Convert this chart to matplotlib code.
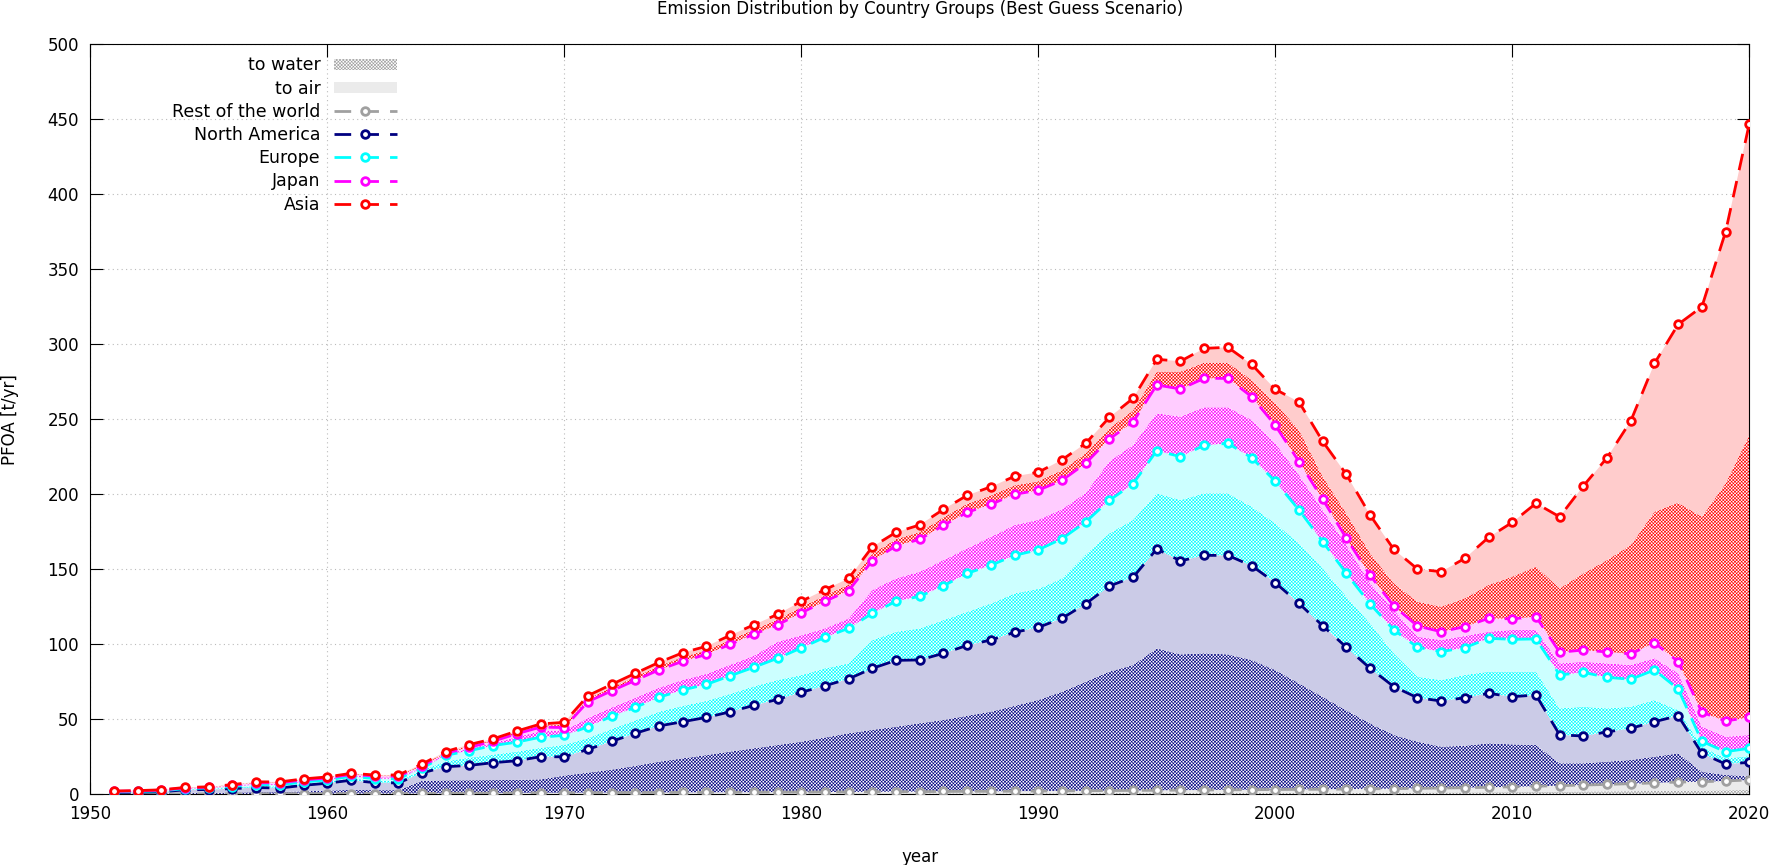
import numpy as np
import matplotlib.pyplot as plt
from matplotlib.lines import Line2D
from matplotlib.patches import Patch

plt.rcParams['font.family'] = ['DejaVu Sans']
plt.rcParams['hatch.linewidth'] = 0.45

years = np.arange(1951, 2021)

# stacked levels (t/yr), one row per decade
row_top = [0.2, 0.2, 0.2, 0.3, 0.3, 0.3, 0.3, 0.4, 0.4, 0.4,
           0.5, 0.5, 0.5, 0.6, 0.7, 0.8, 0.8, 0.9, 1.0, 1.0,
           1.1, 1.1, 1.2, 1.2, 1.3, 1.3, 1.4, 1.4, 1.5, 1.5,
           1.6, 1.6, 1.7, 1.8, 1.8, 1.9, 2.0, 2.0, 2.1, 2.2,
           2.3, 2.4, 2.5, 2.6, 2.7, 2.8, 2.9, 3.0, 3.1, 3.2,
           3.3, 3.4, 3.5, 3.7, 3.8, 4.0, 4.2, 4.4, 4.7, 5.0,
           5.4, 5.8, 6.2, 6.6, 7.1, 7.6, 8.2, 8.4, 8.9, 9.6]
row_water = [0.1, 0.1, 0.1, 0.1, 0.1, 0.1, 0.1, 0.1, 0.1, 0.1,
             0.1, 0.1, 0.1, 0.2, 0.2, 0.2, 0.2, 0.3, 0.3, 0.3,
             0.3, 0.3, 0.4, 0.4, 0.4, 0.4, 0.4, 0.4, 0.5, 0.5,
             0.5, 0.5, 0.5, 0.5, 0.5, 0.6, 0.6, 0.6, 0.6, 0.7,
             0.7, 0.7, 0.8, 0.8, 0.8, 0.8, 0.9, 0.9, 0.9, 1.0,
             1.0, 1.0, 1.1, 1.1, 1.1, 1.2, 1.3, 1.3, 1.4, 1.5,
             1.6, 1.7, 1.9, 2.0, 2.1, 2.3, 2.5, 2.5, 2.7, 2.9]

na_top = [1.2, 1.4, 1.7, 3.0, 3.2, 3.8, 4.5, 4.2, 6.0, 7.4,
          9.4, 7.8, 7.6, 14.3, 18.4, 19.3, 21.1, 22.4, 25.1, 25.0,
          30.0, 35.3, 40.7, 45.6, 48.4, 51.3, 55.0, 59.3, 63.3, 68.0,
          72.4, 77.0, 84.0, 89.3, 89.6, 94.0, 99.3, 102.9, 108.0, 111.3,
          117.3, 127.0, 138.9, 144.7, 163.6, 155.6, 159.3, 159.3, 152.4, 141.1,
          127.3, 112.4, 98.0, 84.0, 71.8, 64.4, 62.2, 64.4, 67.3, 65.1,
          66.2, 39.6, 38.9, 41.6, 44.0, 48.4, 52.4, 27.3, 20.2, 21.3]
na_water = [0.5, 0.6, 0.7, 1.0, 1.0, 1.2, 1.5, 1.5, 2.0, 2.5,
            3.0, 2.8, 2.8, 9.0, 9.3, 9.4, 9.5, 9.6, 10.0, 12.5,
            14.5, 16.5, 19.0, 21.8, 24.0, 26.2, 28.5, 30.7, 32.9, 35.1,
            37.9, 40.7, 43.0, 45.1, 47.4, 49.6, 52.4, 55.1, 59.0, 62.9,
            68.4, 75.1, 81.8, 86.2, 97.3, 93.3, 94.0, 93.3, 89.6, 82.9,
            74.0, 65.0, 56.0, 47.3, 39.6, 35.1, 31.8, 32.4, 34.0, 33.3,
            32.9, 20.7, 20.7, 21.8, 22.9, 25.1, 27.3, 15.1, 12.9, 12.2]

eu_top = [1.6, 1.9, 2.3, 3.8, 4.2, 5.2, 6.5, 6.3, 8.2, 9.6,
          12.0, 10.5, 10.4, 17.5, 26.0, 29.1, 32.5, 34.8, 38.1, 39.3,
          45.0, 52.0, 58.0, 64.7, 69.6, 73.3, 79.0, 84.7, 90.7, 97.6,
          104.7, 110.7, 120.7, 128.7, 132.0, 139.0, 147.3, 152.7, 159.3, 163.0,
          170.4, 181.6, 196.0, 207.0, 229.1, 225.1, 232.7, 234.0, 224.4, 208.7,
          189.6, 168.4, 147.3, 126.9, 109.6, 98.0, 95.1, 97.8, 104.0, 103.3,
          103.6, 79.6, 81.3, 78.0, 76.7, 82.9, 70.2, 35.3, 28.4, 30.7]
eu_water = [1.4, 1.6, 2.0, 3.4, 3.7, 4.5, 5.5, 5.2, 7.1, 8.5,
            10.7, 9.1, 9.0, 16.0, 22.0, 24.5, 26.5, 28.5, 31.0, 33.0,
            37.5, 43.6, 49.3, 55.1, 59.0, 62.3, 67.0, 72.0, 76.2, 79.5,
            84.0, 87.3, 102.8, 108.4, 110.6, 116.2, 121.7, 127.3, 134.0, 137.0,
            144.0, 160.0, 174.0, 183.0, 200.7, 196.2, 200.7, 200.7, 191.8, 180.7,
            167.3, 150.7, 131.8, 114.0, 94.0, 78.4, 76.2, 79.6, 81.8, 81.8,
            81.8, 57.3, 58.4, 57.3, 58.4, 62.9, 56.2, 31.8, 24.0, 25.5]

jp_top = [2.0, 2.3, 2.8, 4.3, 4.7, 6.1, 7.7, 7.7, 9.6, 10.9,
          13.3, 12.2, 12.1, 19.0, 27.4, 31.4, 35.4, 40.4, 44.8, 44.5,
          61.8, 69.0, 76.0, 83.0, 88.7, 93.3, 100.0, 106.7, 113.0, 121.0,
          128.7, 135.8, 155.8, 165.6, 170.0, 179.3, 188.0, 193.3, 200.0, 202.7,
          209.3, 220.7, 236.9, 248.2, 272.9, 270.2, 277.3, 277.3, 265.1, 246.0,
          221.8, 196.7, 170.7, 146.0, 125.6, 112.2, 108.4, 111.8, 117.3, 117.0,
          118.4, 94.7, 96.2, 94.9, 93.6, 101.1, 88.4, 54.7, 48.9, 51.3]
jp_water = [1.8, 2.1, 2.6, 4.1, 4.5, 5.7, 7.1, 7.0, 8.9, 10.3,
            12.7, 11.4, 11.3, 18.4, 26.8, 30.5, 34.2, 38.2, 42.1, 42.4,
            50.9, 58.0, 64.3, 71.1, 76.3, 80.3, 86.4, 92.4, 101.7, 106.0,
            110.6, 117.3, 136.2, 144.0, 148.4, 156.2, 164.0, 171.7, 179.5, 183.0,
            190.0, 201.0, 222.0, 233.0, 254.0, 251.8, 258.0, 258.0, 249.6, 234.0,
            212.9, 189.6, 166.2, 140.7, 122.9, 105.1, 102.9, 105.6, 108.4, 109.6,
            109.6, 87.3, 88.4, 87.3, 86.2, 90.7, 80.7, 45.1, 38.4, 39.6]

asia_top = [2.2, 2.5, 3.0, 4.6, 5.0, 6.5, 8.3, 8.3, 10.3, 11.6,
            14.0, 12.9, 12.9, 20.2, 28.5, 33.2, 37.0, 42.2, 46.9, 48.0,
            65.8, 73.3, 80.7, 88.0, 94.4, 98.7, 106.0, 113.0, 120.0, 128.7,
            136.4, 144.0, 165.0, 174.7, 179.6, 190.0, 199.3, 205.0, 212.0, 214.7,
            223.0, 234.0, 251.3, 264.0, 290.0, 288.7, 297.3, 298.0, 286.7, 270.0,
            261.6, 235.3, 213.3, 186.2, 163.3, 150.2, 148.4, 157.3, 171.3, 181.3,
            194.0, 185.0, 205.6, 224.4, 248.9, 287.3, 313.3, 325.0, 375.0, 447.0]
asia_water = [2.1, 2.4, 2.9, 4.5, 4.9, 6.3, 8.0, 8.0, 10.0, 11.3,
              13.7, 12.6, 12.5, 19.6, 28.0, 32.3, 36.2, 41.3, 45.9, 46.3,
              63.8, 71.2, 78.4, 85.5, 91.6, 96.0, 103.0, 109.9, 116.5, 124.9,
              132.6, 139.9, 160.4, 170.2, 174.8, 184.7, 193.7, 199.2, 206.0, 208.7,
              216.2, 227.4, 244.0, 256.0, 281.8, 281.8, 287.8, 287.8, 276.2, 260.7,
              242.9, 211.8, 187.3, 160.7, 140.7, 128.4, 125.1, 130.7, 139.6, 145.1,
              151.8, 137.3, 147.3, 156.2, 166.2, 188.4, 194.4, 185.1, 207.3, 239.6]

names = ["Rest of the world", "North America", "Europe", "Japan", "Asia"]
tops = [row_top, na_top, eu_top, jp_top, asia_top]
waters = [row_water, na_water, eu_water, jp_water, asia_water]
line_colors = ["#a0a0a0", "#000080", "#00ffff", "#ff00ff", "#ff0000"]
air_colors = ["#ebebeb", "#cbcbe7", "#ccffff", "#ffccff", "#ffcccc"]

HATCH = "x" * 10

fig = plt.figure(figsize=(17.77, 8.65), dpi=100)
ax = fig.add_axes([0.0508, 0.0817, 0.9336, 0.8671])

# filled bands: water part (hatched) at the bottom, air part (light) on top
bottom = np.zeros(len(years))
for top, water, lc, ac in zip(tops, waters, line_colors, air_colors):
    top = np.array(top)
    water = np.array(water)
    ax.fill_between(years, bottom, water, facecolor="white", edgecolor=lc,
                    hatch=HATCH, linewidth=0, zorder=1)
    ax.fill_between(years, water, top, facecolor=ac, linewidth=0, zorder=1)
    bottom = top

line_kw = dict(lw=2, dashes=(6, 4), marker="o", ms=5.5, mfc="white", mew=2)
for name, top, lc in zip(names, tops, line_colors):
    ax.plot(years, top, color=lc, zorder=3, **line_kw)

ax.set_xlim(1950, 2020)
ax.set_ylim(0, 500)
ax.set_xticks(range(1950, 2021, 10))
ax.set_yticks(range(0, 501, 50))
ax.tick_params(direction="in", length=9, top=True, right=True, labelsize=12, pad=8)
ax.set_axisbelow(True)
ax.grid(True, linestyle=(0, (1, 3)), color="#bbbbbb", lw=0.8)

cx = (0.0508 + 0.0508 + 0.9336) / 2
fig.text(cx, 1 - 9 / 865, "Emission Distribution by Country Groups (Best Guess Scenario)",
         ha="center", va="center", fontsize=12)
fig.text(cx, 1 - 857 / 865, "year", ha="center", va="center", fontsize=12)
fig.text(10 / 1777, 1 - 420 / 865, "PFOA [t/yr]", ha="center", va="center",
         rotation=90, fontsize=12)

handles = [Patch(facecolor="white", edgecolor="#a0a0a0", hatch=HATCH, lw=0),
           Patch(facecolor="#ebebeb", lw=0)]
for lc in line_colors:
    handles.append(Line2D([], [], color=lc, **line_kw))
labels = ["to water", "to air"] + names
ax.legend(handles, labels, loc="upper right", bbox_to_anchor=(0.192, 1.0),
          frameon=False, markerfirst=False, fontsize=12.5, handlelength=3.6,
          handleheight=0.6, labelspacing=0.3, borderaxespad=0.3)

fig.savefig("out.png", dpi=100)
